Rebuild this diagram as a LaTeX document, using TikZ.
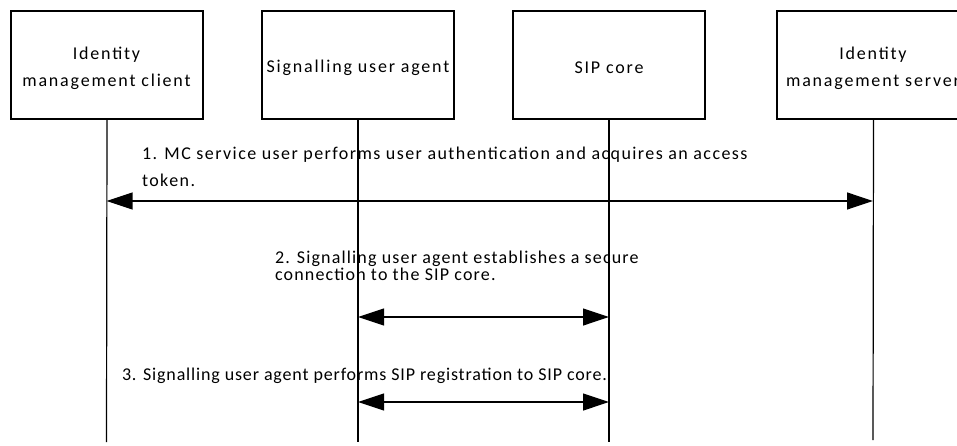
\documentclass[tikz,border=0pt]{standalone}
\usepackage{fontspec}
\setmainfont{Carlito}
\newfontfamily\lsA{Carlito}[LetterSpace=10]
\newfontfamily\lsB{Carlito}[LetterSpace=8]
\newfontfamily\lsC{Carlito}[LetterSpace=6.5]
\newfontfamily\lsD{Carlito}[LetterSpace=4.7]
\usetikzlibrary{arrows.meta}
\begin{document}
\begin{tikzpicture}[x=1pt,y=-1pt,
  every node/.style={inner sep=0pt,outer sep=0pt},
  boxtxt/.style={font=\fontsize{18}{21}\lsA},
  entity/.style={draw,line width=1.2pt,minimum width=192pt,minimum height=108pt,anchor=north west},
  life/.style={line width=1.2pt},
  msg/.style={line width=1.2pt,{Triangle[length=26pt,width=17pt]}-{Triangle[length=26pt,width=17pt]}},
  lbl/.style={anchor=base west}]
\useasboundingbox (0,0) rectangle (957,446);
\clip (0,0) rectangle (957,446);
% entity boxes
\node[entity] (b1) at (11,11) {};
\node[entity] (b2) at (262,11) {};
\node[entity] (b3) at (513,11) {};
\node[entity,minimum width=193pt] (b4) at (777,11) {};
% box labels
\node[boxtxt] (b1a) at (106.5,55) {Identity};
\node[boxtxt] (b1b) at (106.5,82) {management client};
\node[boxtxt] (b2a) at (358,68) {Signalling user agent};
\node[boxtxt] (b3a) at (609,68) {SIP core};
\node[boxtxt] (b4a) at (873,55) {Identity};
\node[boxtxt] (b4b) at (873,82) {management server};
% lifeline ends
\coordinate (e1) at (106.5,442);
\coordinate (e2) at (358,442);
\coordinate (e3) at (609,442);
\coordinate (e4) at (873,440);
\draw[life] (b1.south) -- (e1);
\draw[life] (b2.south) -- (e2);
\draw[life] (b3.south) -- (e3);
\draw[life] (b4.south) -- (e4);
% messages
\coordinate (m1l) at (106.5,201);
\coordinate (m1r) at (873,201);
\coordinate (m2l) at (358,317);
\coordinate (m2r) at (609,317);
\coordinate (m3l) at (358,402);
\coordinate (m3r) at (609,402);
\draw[msg] (m1l) -- (m1r);
\draw[msg] (m2l) -- (m2r);
\draw[msg] (m3l) -- (m3r);
% message labels
\node[lbl,font=\fontsize{18}{21}\lsB] (t1a) at (142,160) {1. MC service user performs user authentication and acquires an access};
\node[lbl,font=\fontsize{18}{21}\lsB] (t1b) at (142,187) {token.};
\node[lbl,font=\fontsize{18}{21}\lsC] (t2a) at (275,263) {2. Signalling user agent establishes a secure};
\node[lbl,font=\fontsize{18}{21}\lsC] (t2b) at (275,280) {connection to the SIP core.};
\node[lbl,font=\fontsize{18}{21}\lsD] (t3a) at (122,380) {3. Signalling user agent performs SIP registration to SIP core.};
\end{tikzpicture}
\end{document}
